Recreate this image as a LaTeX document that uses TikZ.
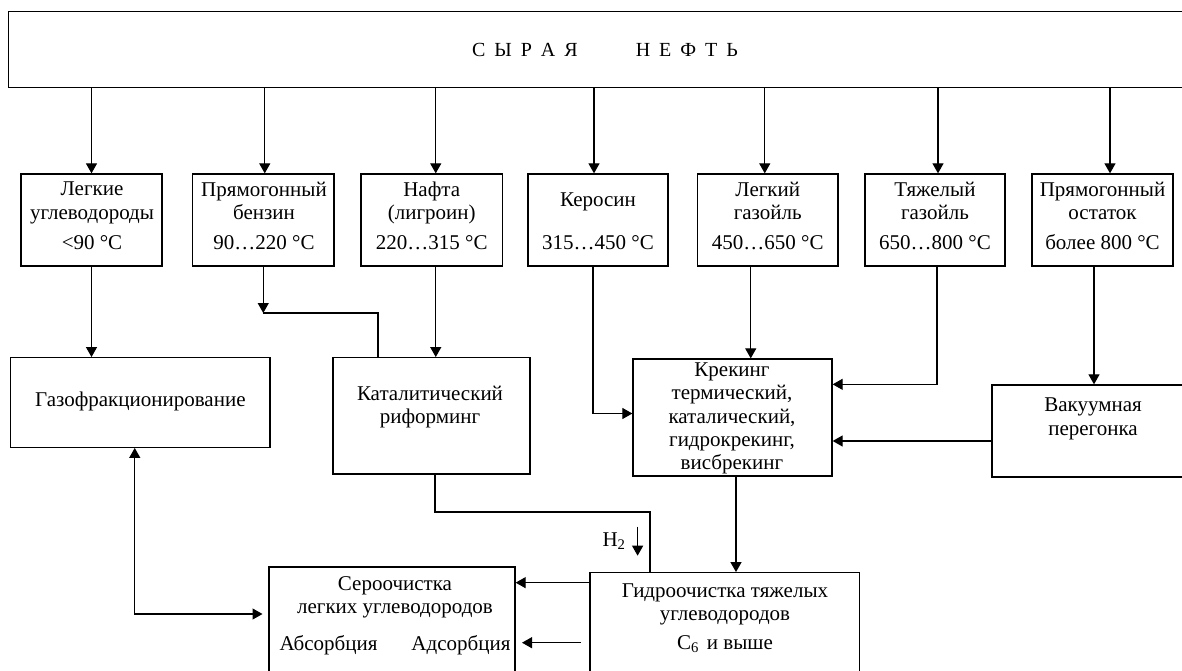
\documentclass[tikz,border=0pt]{standalone}
\usepackage{fontspec}
\setmainfont{Liberation Serif}
\usetikzlibrary{arrows.meta}
\begin{document}
\begin{tikzpicture}[x=1pt,y=-1pt,
  every node/.style={font=\fontsize{21}{23.3}\selectfont},
  box/.style={draw, line width=1.3pt, inner sep=0pt},
  txt/.style={align=center, inner sep=0pt},
  ln/.style={line width=1.2pt},
  arr/.style={line width=1.2pt, -{Triangle[length=10pt,width=11pt]}},
  darr/.style={line width=1.2pt, {Triangle[length=10pt,width=11pt]}-{Triangle[length=10pt,width=11pt]}}]
\useasboundingbox (0,0) rectangle (1182,671);
\clip (0,0) rectangle (1182,671);
% top box
\node[box, minimum width=1191.6pt, minimum height=75.6pt] (top) at (604.2,49.5) {};
\node[txt, font=\fontsize{20}{23}\selectfont] (topt) at (605,50) {С\hspace{9pt}Ы\hspace{9pt}Р\hspace{9pt}А\hspace{9pt}Я\hspace{58pt}Н\hspace{9pt}Е\hspace{9pt}Ф\hspace{9pt}Т\hspace{9pt}Ь};
% fraction boxes
\node[box, minimum width=141pt, minimum height=92pt] (b1) at (91.5,220) {};
\node[box, minimum width=141.5pt, minimum height=92pt] (b2) at (263.25,220) {};
\node[box, minimum width=141.5pt, minimum height=92pt] (b3) at (431.75,220) {};
\node[box, minimum width=140pt, minimum height=92pt] (b4) at (598,220) {};
\node[box, minimum width=140.5pt, minimum height=92pt] (b5) at (767.75,220) {};
\node[box, minimum width=140pt, minimum height=92pt] (b6) at (935,220) {};
\node[box, minimum width=141pt, minimum height=92pt] (b7) at (1102.5,220) {};
\node[txt] (b1t) at (92,216) {Легкие\\углеводороды\\[7pt]<90 °C};
\node[txt] (b2t) at (264,216) {Прямогонный\\бензин\\[7pt]90…220 °C};
\node[txt] (b3t) at (431.75,216) {Нафта\\(лигроин)\\[7pt]220…315 °C};
\node[txt] (b4t) at (598,221.5) {Керосин\\[20pt]315…450 °C};
\node[txt] (b5t) at (767.75,216) {Легкий\\газойль\\[7pt]450…650 °C};
\node[txt] (b6t) at (935,216) {Тяжелый\\газойль\\[7pt]650…800 °C};
\node[txt] (b7t) at (1102.5,216) {Прямогонный\\остаток\\[7pt]более 800 °C};
% process boxes
\node[box, minimum width=259.3pt, minimum height=89.6pt] (gaz) at (140.35,402.5) {};
\node[txt] (gazt) at (140.35,401) {Газофракционирование};
\node[box, minimum width=197pt, minimum height=116.3pt] (kat) at (431.5,415.85) {};
\node[txt] (katt) at (430,407) {Каталитический\\риформинг};
\node[box, minimum width=199pt, minimum height=117pt] (krek) at (732.5,417.5) {};
\node[txt] (krekt) at (732,418.5) {Крекинг\\термический,\\каталический,\\гидрокрекинг,\\висбрекинг};
\node[box, minimum width=208pt, minimum height=92pt] (vak) at (1096,431) {};
\node[txt] (vakt) at (1093,419) {Вакуумная\\перегонка};
\node[box, minimum width=269.5pt, minimum height=127.3pt] (gid) at (724.75,636.35) {};
\node[txt] (gidt) at (725,618) {Гидроочистка тяжелых\\углеводородов\\[5pt]C\textsubscript{6}\hspace{8pt}и выше};
\node[box, minimum width=246pt, minimum height=133pt] (ser) at (392,633.5) {};
\node[txt] (sert) at (395,597) {Сероочистка\\легких углеводородов};
\node[txt] (sert2) at (395,645) {Абсорбция\hspace{34pt}Адсорбция};
% connectors from crude oil
\draw[arr] (top.south -| b1.north) -- (b1.north);
\draw[arr] ([xshift=1.5pt]b2.north |- top.south) -- ([xshift=1.5pt]b2.north);
\draw[arr] ([xshift=4pt]b3.north |- top.south) -- ([xshift=4pt]b3.north);
\draw[arr] ([xshift=-4pt]b4.north |- top.south) -- ([xshift=-4pt]b4.north);
\draw[arr] ([xshift=-3pt]b5.north |- top.south) -- ([xshift=-3pt]b5.north);
\draw[arr] ([xshift=3pt]b6.north |- top.south) -- ([xshift=3pt]b6.north);
\draw[arr] ([xshift=7.5pt]b7.north |- top.south) -- ([xshift=7.5pt]b7.north);
% lower connectors
\draw[arr] (b1.south) -- (b1.south |- gaz.north);
\coordinate (c2) at (263.25,313);
\coordinate (k2) at (378,313);
\draw[arr] (b2.south) -- (c2);
\draw[ln] (c2) -- (k2) -- (k2 |- kat.north);
\draw[arr] ([xshift=4pt]b3.south) -- ([xshift=4pt]b3.south |- kat.north);
\draw[arr] ([xshift=-5pt]b4.south) |- ([yshift=4pt]krek.west);
\draw[arr] ([xshift=-17pt]b5.south) -- ([xshift=-17pt]b5.south |- krek.north);
\draw[arr] ([xshift=2pt]b6.south) |- ([yshift=-26pt]krek.north east);
\draw[arr] ([xshift=-8.5pt]b7.south) -- ([xshift=-8.5pt]b7.south |- vak.north);
\draw[arr] ([yshift=-10pt]vak.west) -- ([yshift=-10pt]vak.west -| krek.east);
\draw[arr] ([xshift=3.5pt]krek.south) -- ([xshift=3.5pt]krek.south |- gid.north);
\coordinate (k3) at (650,512);
\draw[ln] ([xshift=3.5pt]kat.south) |- (k3) -- (k3 |- gid.north);
\coordinate (h2a) at (637.6,526.7);
\coordinate (h2b) at (637.6,555.7);
\draw[arr] (h2a) -- (h2b);
\node[txt] (h2t) at (614,541) {H\textsubscript{2}};
\draw[arr] ([yshift=-10.6pt]gid.north west) -- ([yshift=-10.6pt]gid.north west -| ser.east);
\coordinate (f1) at (581,642.7);
\coordinate (f2) at (522,642.7);
\draw[arr] (f1) -- (f2);
\coordinate (s1) at (262.5,614);
\draw[darr] ([xshift=-5.6pt]gaz.south) |- (s1);
\end{tikzpicture}
\end{document}
